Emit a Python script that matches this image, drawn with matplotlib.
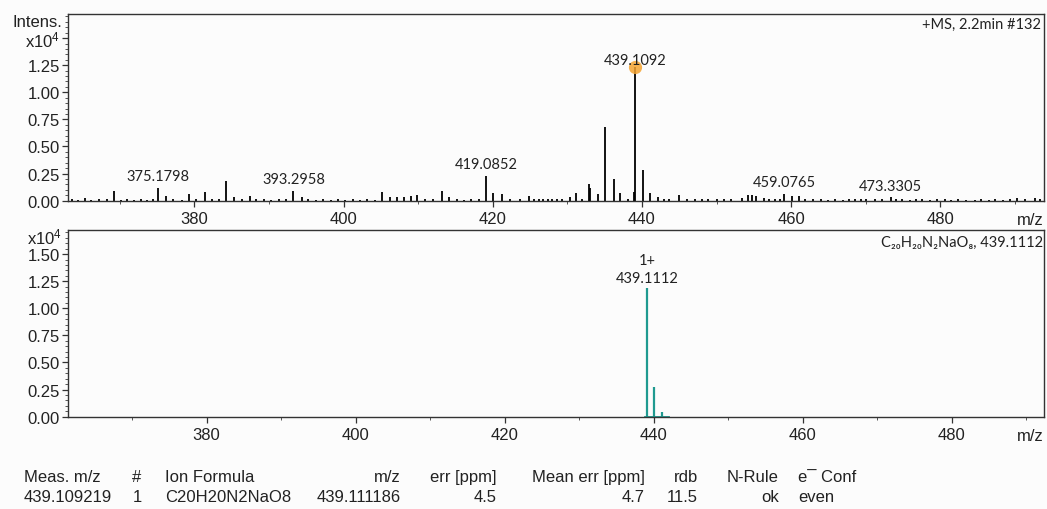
import matplotlib
matplotlib.use("Agg")
import matplotlib.pyplot as plt
from matplotlib.ticker import MultipleLocator, FixedLocator, FixedFormatter
from matplotlib import transforms

# measured spectrum (+MS, 2.2min #132), intensities in x10^4
ms_mz = [363.6, 364.4, 365.3, 366.2, 367.2, 368.3, 369.3, 370.2, 371.0, 371.9,
         372.8, 373.7, 374.4, 375.1798, 376.2, 377.2, 378.3, 379.3, 380.2, 381.4,
         382.4, 383.3, 384.3, 385.3, 386.4, 387.4, 388.3, 389.3, 390.3, 391.3,
         392.3, 393.2958, 394.4, 395.3, 396.3, 397.2, 398.3, 399.2, 400.2, 401.3,
         402.2, 403.1, 404.2, 405.2, 406.2, 407.2, 408.1, 409.0, 409.9, 410.9,
         412.0, 413.2, 414.1, 415.2, 416.2, 417.1, 418.1, 419.0852, 420.1, 421.2,
         422.3, 423.6, 424.9, 425.6, 426.2, 426.8, 427.4, 428.0, 428.6, 429.3,
         430.4, 431.1, 432.0, 432.9, 433.1, 434.1, 435.1, 436.2, 437.1, 438.1,
         438.95, 439.1092, 440.1, 441.1, 442.1, 443.0, 443.6, 445.0, 446.0, 447.1,
         448.0, 448.9, 450.0, 451.0, 452.0, 453.4, 454.2, 454.7, 455.3, 456.3,
         457.1, 457.8, 458.5, 459.0765, 460.1, 461.0, 461.9, 463.0, 464.0, 465.0,
         465.9, 467.0, 467.8, 468.6, 469.4, 470.0, 471.2, 472.2, 473.3305, 474.0,
         474.9, 476.0, 476.8, 477.6, 478.6, 479.5, 480.6, 481.5, 482.4, 483.5,
         484.6, 485.5, 486.5, 487.3, 488.4, 489.4, 490.3, 491.4, 492.7, 493.3]
ms_int = [0.012, 0.008, 0.028, 0.010, 0.020, 0.015, 0.087, 0.010, 0.012, 0.010,
          0.012, 0.010, 0.012, 0.117, 0.045, 0.015, 0.010, 0.060, 0.012, 0.080,
          0.020, 0.012, 0.180, 0.030, 0.020, 0.040, 0.012, 0.015, 0.010, 0.015,
          0.012, 0.087, 0.030, 0.012, 0.010, 0.012, 0.010, 0.012, 0.010, 0.012,
          0.010, 0.012, 0.010, 0.083, 0.035, 0.030, 0.030, 0.045, 0.050, 0.020,
          0.012, 0.085, 0.030, 0.015, 0.010, 0.012, 0.012, 0.230, 0.075, 0.060,
          0.020, 0.020, 0.045, 0.015, 0.018, 0.012, 0.015, 0.012, 0.015, 0.012,
          0.030, 0.075, 0.020, 0.150, 0.120, 0.060, 0.680, 0.200, 0.070, 0.020,
          0.080, 1.230, 0.280, 0.070, 0.030, 0.020, 0.015, 0.050, 0.015, 0.020,
          0.012, 0.015, 0.012, 0.012, 0.020, 0.025, 0.050, 0.050, 0.045, 0.025,
          0.015, 0.020, 0.015, 0.065, 0.040, 0.045, 0.020, 0.015, 0.012, 0.010,
          0.015, 0.010, 0.012, 0.020, 0.012, 0.020, 0.012, 0.020, 0.030, 0.015,
          0.015, 0.010, 0.012, 0.015, 0.010, 0.012, 0.015, 0.010, 0.012, 0.010,
          0.010, 0.012, 0.010, 0.015, 0.010, 0.012, 0.025, 0.020, 0.025, 0.020]
ms_labels = [375.1798, 393.2958, 419.0852, 439.1092, 459.0765, 473.3305]
ms_label_pad = [3.5, 3.5, 3.5, 0.5, 3.5, 3.5]
ms_marked = 439.1092

# simulated isotope pattern C20H20N2NaO8
sim_mz = [439.1112, 440.1143, 441.1165]
sim_int = [1.19, 0.27, 0.046]
sim_range = [438.9, 442.1]

# result table
tbl_header = ["Meas. m/z", "#", "Ion Formula", "m/z", "err [ppm]",
              "Mean err [ppm]", "rdb", "N-Rule", "e\u00af Conf"]
tbl_row = ["439.109219", "1", "C20H20N2NaO8", "439.111186", "4.5",
           "4.7", "11.5", "ok", "even"]
tbl_x = [24, 137, 165, 401, 497, 645, 698, 779, 798]
tbl_ha = ["left", "center", "left", "right", "right", "right", "right", "right", "left"]

plt.rcParams['font.family'] = ['Liberation Sans', 'DejaVu Sans']
plt.rcParams['mathtext.fontset'] = 'custom'
plt.rcParams['mathtext.rm'] = 'Liberation Sans'
plt.rcParams['mathtext.it'] = 'Liberation Sans'

W, H = 1047, 510
bg = '#fcfcfc'
ink = '#222222'
teal = '#1f9a90'
lab_font = ['Lato', 'DejaVu Sans']

fig = plt.figure(figsize=(W / 100, H / 100), dpi=100, facecolor=bg)


def px_axes(left, top, right, bottom):
    return fig.add_axes([left / W, 1 - bottom / H, (right - left) / W, (bottom - top) / H])


ax1 = px_axes(68, 14.7, 1044, 201.7)
ax2 = px_axes(68, 230.7, 1044, 417.7)

ax1.set_xlim(363.07, 493.9)
ax2.set_xlim(361.4, 492.4)

for ax in (ax1, ax2):
    ax.set_facecolor(bg)
    ax.set_ylim(0, 1.725)
    for s in ax.spines.values():
        s.set_color('#333333')
        s.set_linewidth(1.0)
    ax.xaxis.set_major_locator(MultipleLocator(20))
    ax.xaxis.set_minor_locator(MultipleLocator(10))
    ax.yaxis.set_minor_locator(MultipleLocator(0.05))
    ax.tick_params(which='major', direction='out', length=4, width=0.9,
                   color='#333333', labelsize=12, labelcolor=ink, pad=2)
    ax.tick_params(which='minor', direction='out', length=2.5, width=0.7, color='#555555')
    ax.tick_params(axis='x', which='major', pad=3.5)
    ax.annotate("m/z", xy=(1, 0), xycoords='axes fraction', xytext=(0, -8),
                textcoords='offset points', ha='right', va='top', fontsize=12, color=ink)

# y tick labels
yt1 = [0, 0.25, 0.5, 0.75, 1.0, 1.25, 1.5]
ax1.yaxis.set_major_locator(FixedLocator(yt1))
ax1.yaxis.set_major_formatter(FixedFormatter(["%.2f" % v for v in yt1[:-1]] + ["x10$^4$"]))
ax2.yaxis.set_major_locator(FixedLocator(yt1))
ax2.yaxis.set_major_formatter(FixedFormatter(["%.2f" % v for v in yt1]))

lbl_tr1 = transforms.blended_transform_factory(ax1.transAxes, ax1.transData)
ax1.annotate("Intens.", xy=(0, 1.65), xycoords=lbl_tr1, xytext=(-4.5, 0),
             textcoords='offset points', ha='right', va='center', fontsize=12, color=ink)
lbl_tr2 = transforms.blended_transform_factory(ax2.transAxes, ax2.transData)
ax2.annotate("x10$^4$", xy=(0, 1.66), xycoords=lbl_tr2, xytext=(-4.5, 0),
             textcoords='offset points', ha='right', va='center', fontsize=12, color=ink)

# measured spectrum
ax1.vlines(ms_mz, 0, ms_int, color='black', linewidth=1.3)
peak_h = dict(zip(ms_mz, ms_int))
ax1.plot([ms_marked], [peak_h[ms_marked]], 'o', ms=9.5, color='#f5a431', alpha=0.85,
         mec='none', zorder=3)
for mz, pad in zip(ms_labels, ms_label_pad):
    ax1.annotate("%.4f" % mz, xy=(mz, peak_h[mz]), xytext=(0, pad), textcoords='offset points',
                 ha='center', va='bottom', fontsize=10.5, color=ink, family=lab_font, zorder=4)
ax1.text(0.997, 0.945, "+MS, 2.2min #132", transform=ax1.transAxes, ha='right', va='center',
         fontsize=10.5, color=ink, family=lab_font)

# simulated pattern
ax2.plot(sim_range, [0, 0], color=teal, linewidth=1.3)
ax2.vlines(sim_mz, 0, sim_int, color=teal, linewidth=1.6)
ax2.annotate("1+\n%.4f" % sim_mz[0], xy=(sim_mz[0], sim_int[0]), xytext=(0, 2),
             textcoords='offset points', ha='center', va='bottom', fontsize=10.5,
             color=ink, family=lab_font, linespacing=1.35)
ax2.text(0.999, 0.936, "C\u2082\u2080H\u2082\u2080N\u2082NaO\u2088, 439.1112", transform=ax2.transAxes,
         ha='right', va='center', fontsize=10.5, color=ink, family=lab_font)

# table
for x, ha, h, v in zip(tbl_x, tbl_ha, tbl_header, tbl_row):
    fig.text(x / W, 1 - 478 / H, h, ha=ha, va='center', fontsize=12, color=ink)
    fig.text(x / W, 1 - 498 / H, v, ha=ha, va='center', fontsize=12, color=ink)

fig.savefig("out.png", dpi=100, facecolor=bg)
